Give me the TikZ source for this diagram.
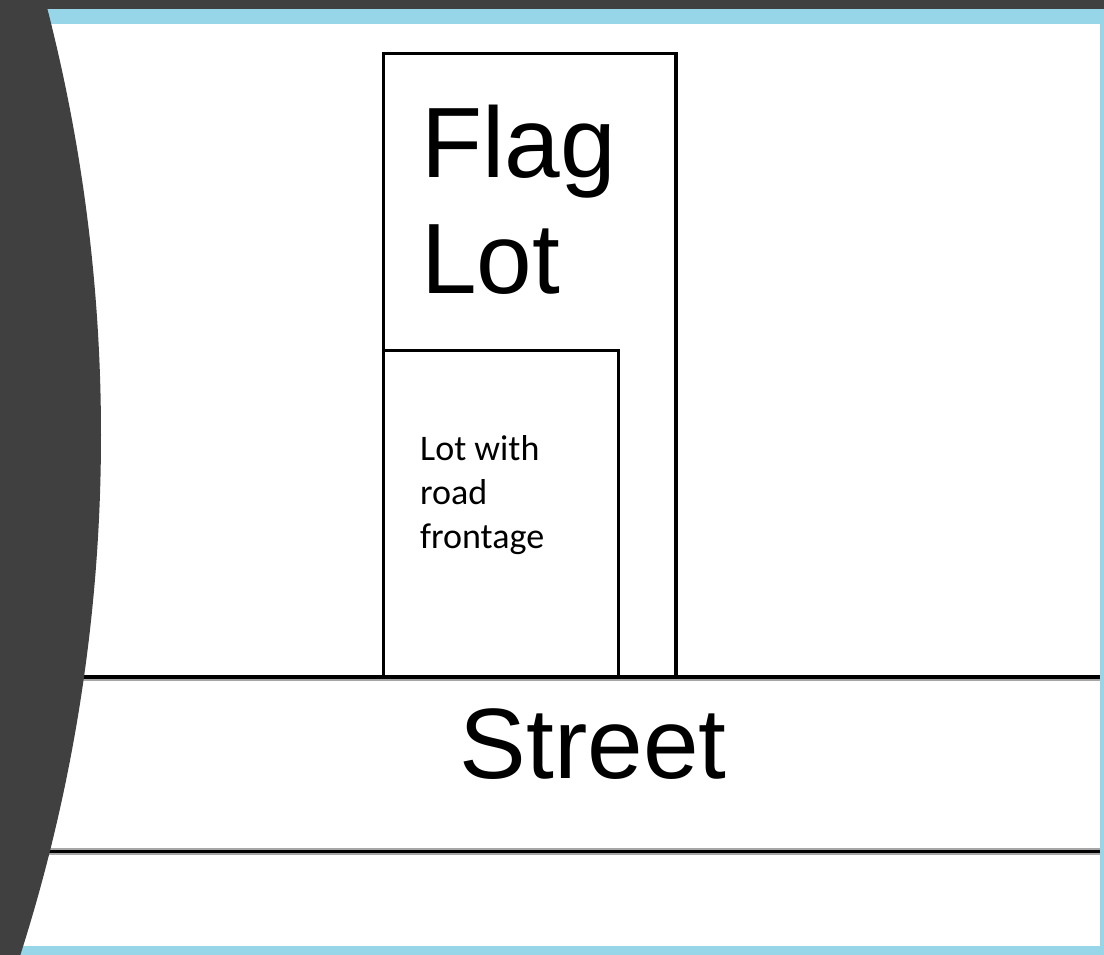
\documentclass[tikz,border=0pt]{standalone}
\usepackage{fontspec}
\setmainfont{Liberation Sans}
\newfontfamily\smallfont{Carlito}
\usetikzlibrary{positioning}
\definecolor{slidegray}{RGB}{64,64,64}
\definecolor{frameblue}{RGB}{150,214,232}

\begin{document}
\begin{tikzpicture}[
    x=1pt, y=-1pt,
    lotline/.style={draw=black, line width=3pt},
    streetline/.style={draw=black, line width=3.5pt},
    bigtext/.style={font=\fontsize{100}{116}\selectfont, align=left, inner sep=0pt},
    smalltext/.style={font=\smallfont\fontsize{36}{44}\selectfont, align=left, inner sep=0pt}
]
\useasboundingbox (0,0) rectangle (1104,955);
% slide frame
\fill[slidegray] (0,0) rectangle (1104,955);
\fill[frameblue] (0,9) rectangle (1104,955);
\fill[white] (0,24) rectangle (1100,946);

% street
\draw[gray!70, line width=7pt] (40,851) -- (1100,851);
\draw[black, line width=3pt] (40,851) -- (1100,851);
\draw[gray!70, line width=5pt] (60,678) -- (1100,678);
\draw[streetline] (60,677) -- (1100,677);

% lots
\draw[lotline] (383,677) -- (383,54) -- (676,54);
\draw[lotline, line width=4.5pt] (676,52.5) -- (676,677);
\draw[lotline] (383,350) -- (618,350) -- (618,677);

% base anchor sits on the last line
\node[bigtext, anchor=base west] (flag) at (421,293) {Flag\\Lot};
\node[smalltext, anchor=base west] (frontage) at (420,548) {Lot with\\road\\frontage};
\node[bigtext, anchor=base] (street) at (593,778) {Street};

% slide edge
\begin{scope}
\clip (0,0) rectangle (1104,955);
\fill[slidegray] (-1606,435) circle[radius=1707pt];
\end{scope}
\end{tikzpicture}
\end{document}
